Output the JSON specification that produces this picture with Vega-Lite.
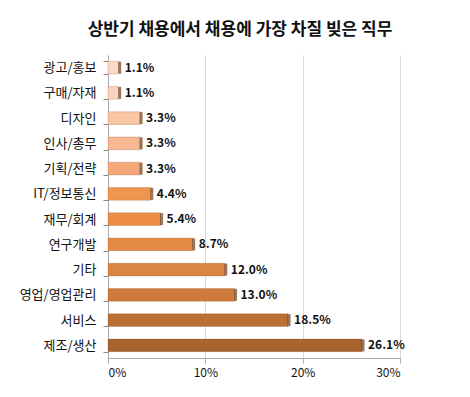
{
  "$schema": "https://vega.github.io/schema/vega-lite/v6.json",
  "autosize": "none",
  "width": 292,
  "height": 303,
  "padding": {"left": 108, "top": 55, "right": 70, "bottom": 39},
  "background": "white",
  "title": {
    "text": "상반기 채용에서 채용에 가장 차질 빚은 직무",
    "font": "Noto Sans CJK KR",
    "fontSize": 17,
    "fontWeight": "bold",
    "color": "#111111",
    "anchor": "middle",
    "frame": "group",
    "dx": -14,
    "offset": 10
  },
  "config": {
    "view": {"stroke": null},
    "font": "Noto Sans CJK KR"
  },
  "data": {
    "values": [
      {"job": "광고/홍보", "pct": 1.1, "label": "1.1%"},
      {"job": "구매/자재", "pct": 1.1, "label": "1.1%"},
      {"job": "디자인", "pct": 3.3, "label": "3.3%"},
      {"job": "인사/총무", "pct": 3.3, "label": "3.3%"},
      {"job": "기획/전략", "pct": 3.3, "label": "3.3%"},
      {"job": "IT/정보통신", "pct": 4.4, "label": "4.4%"},
      {"job": "재무/회계", "pct": 5.4, "label": "5.4%"},
      {"job": "연구개발", "pct": 8.7, "label": "8.7%"},
      {"job": "기타", "pct": 12.0, "label": "12.0%"},
      {"job": "영업/영업관리", "pct": 13.0, "label": "13.0%"},
      {"job": "서비스", "pct": 18.5, "label": "18.5%"},
      {"job": "제조/생산", "pct": 26.1, "label": "26.1%"}
    ]
  },
  "encoding": {
    "y": {
      "field": "job",
      "type": "nominal",
      "sort": null,
      "scale": {"paddingInner": 0.5, "paddingOuter": 0.25},
      "axis": {
        "title": null,
        "labelFontSize": 13,
        "labelColor": "#111111",
        "labelPadding": 7,
        "tickBand": "extent",
        "tickSize": 5,
        "tickColor": "#888888",
        "domainColor": "#aaaaaa",
        "grid": false
      }
    },
    "x": {
      "field": "pct",
      "type": "quantitative",
      "scale": {"domain": [0, 30]},
      "axis": {
        "title": null,
        "values": [0, 10, 20, 30],
        "labelExpr": "datum.value + '%'",
        "labelFontSize": 12,
        "labelColor": "#111111",
        "labelPadding": 4,
        "grid": true,
        "gridColor": "#d9d9d9",
        "domainColor": "#aaaaaa",
        "tickColor": "#aaaaaa",
        "tickSize": 5
      }
    }
  },
  "layer": [
    {
      "mark": {"type": "bar", "stroke": "#8a5530", "strokeOpacity": 0.25, "strokeWidth": 1},
      "encoding": {
        "color": {
          "field": "job",
          "type": "nominal",
          "legend": null,
          "scale": {
            "domain": ["광고/홍보","구매/자재","디자인","인사/총무","기획/전략","IT/정보통신","재무/회계","연구개발","기타","영업/영업관리","서비스","제조/생산"],
            "range": ["#fbd9c8","#fbd3be","#f9c6a6","#f7b892","#f4a878","#f09550","#ec8c45","#e58a46","#db8542","#cd7a3a","#bb6f35","#a8632e"]
          }
        }
      }
    },
    {
      "mark": {"type": "tick", "color": "#6e4020", "thickness": 3, "size": 12, "xOffset": 1},
      "encoding": {}
    },
    {
      "mark": {"type": "text", "align": "left", "dx": 6, "fontSize": 12, "fontWeight": "bold", "color": "#111111", "font": "Noto Sans CJK KR"},
      "encoding": {"text": {"field": "label"}}
    }
  ]
}
